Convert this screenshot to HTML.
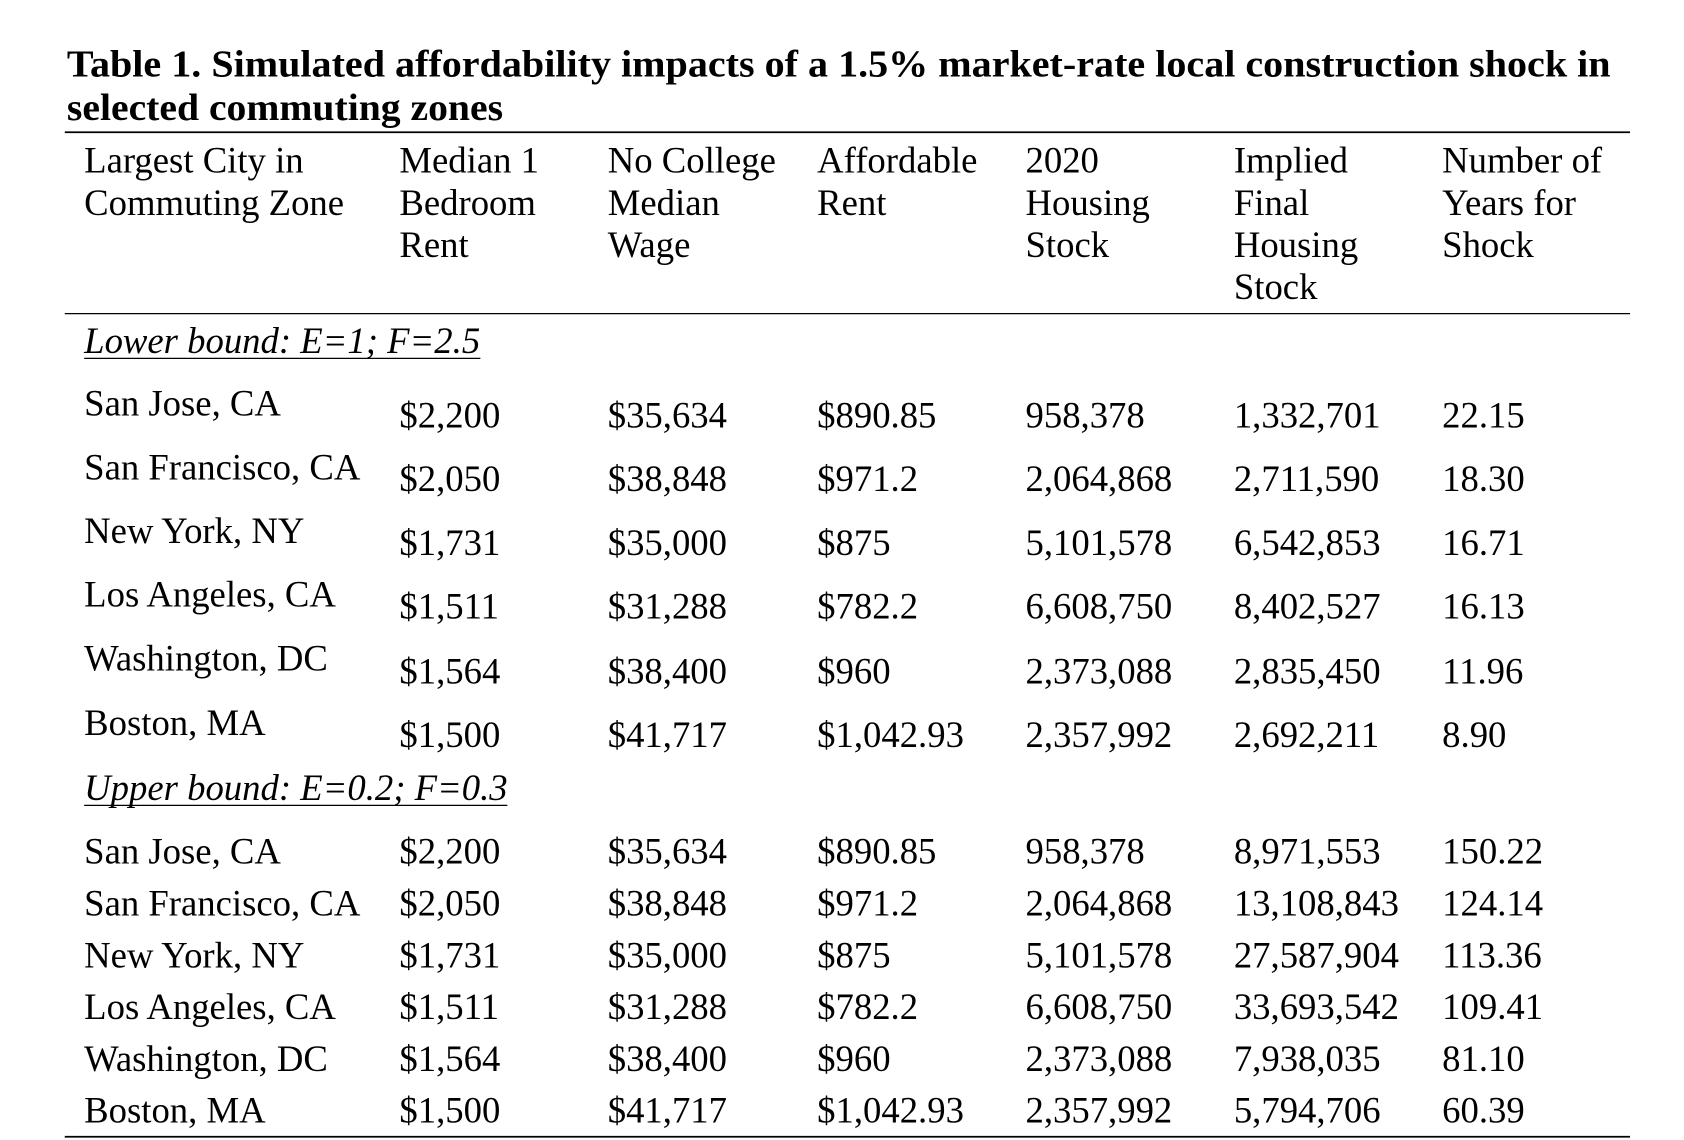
<!DOCTYPE html>
<html><head><meta charset="utf-8"><style>
html,body{margin:0;padding:0;background:#fff;}
svg{display:block;}
text{font-family:"Liberation Serif",serif;fill:#000;}
.t{font-weight:bold;font-size:35px;}
.h{font-size:34px;}
.v{font-size:34px;}
.i{font-size:34px;font-style:italic;}
</style></head><body>
<svg width="1684" height="1140" viewBox="0 0 1560 1056" preserveAspectRatio="none" xmlns="http://www.w3.org/2000/svg">
<text class="t" x="62" y="71" textLength="1430" lengthAdjust="spacingAndGlyphs">Table 1. Simulated affordability impacts of a 1.5% market-rate local construction shock in</text>
<text class="t" x="62" y="111" textLength="404" lengthAdjust="spacingAndGlyphs">selected commuting zones</text>
<line x1="60" y1="122.5" x2="1510" y2="122.5" stroke="#000" stroke-width="1.6"/>
<g class="h">
<text x="78" y="160">Largest City in</text><text x="78" y="199">Commuting Zone</text>
<text x="370" y="160">Median 1</text><text x="370" y="199">Bedroom</text><text x="370" y="238">Rent</text>
<text x="563" y="160">No College</text><text x="563" y="199">Median</text><text x="563" y="238">Wage</text>
<text x="757" y="160">Affordable</text><text x="757" y="199">Rent</text>
<text x="950" y="160">2020</text><text x="950" y="199">Housing</text><text x="950" y="238">Stock</text>
<text x="1143" y="160">Implied</text><text x="1143" y="199">Final</text><text x="1143" y="238">Housing</text><text x="1143" y="277">Stock</text>
<text x="1336" y="160">Number of</text><text x="1336" y="199">Years for</text><text x="1336" y="238">Shock</text>
</g>
<line x1="60" y1="290.5" x2="1510" y2="290.5" stroke="#000" stroke-width="1.2"/>
<text class="i" x="78" y="327">Lower bound: E=1; F=2.5</text>
<line x1="78" y1="332" x2="445" y2="332" stroke="#000" stroke-width="1.2"/>
<g class="v">
<text x="78" y="385">San Jose, CA</text><text x="370" y="396">$2,200</text><text x="563" y="396">$35,634</text><text x="757" y="396">$890.85</text><text x="950" y="396">958,378</text><text x="1143" y="396">1,332,701</text><text x="1336" y="396">22.15</text>
<text x="78" y="444">San Francisco, CA</text><text x="370" y="455">$2,050</text><text x="563" y="455">$38,848</text><text x="757" y="455">$971.2</text><text x="950" y="455">2,064,868</text><text x="1143" y="455">2,711,590</text><text x="1336" y="455">18.30</text>
<text x="78" y="503">New York, NY</text><text x="370" y="514">$1,731</text><text x="563" y="514">$35,000</text><text x="757" y="514">$875</text><text x="950" y="514">5,101,578</text><text x="1143" y="514">6,542,853</text><text x="1336" y="514">16.71</text>
<text x="78" y="562">Los Angeles, CA</text><text x="370" y="573">$1,511</text><text x="563" y="573">$31,288</text><text x="757" y="573">$782.2</text><text x="950" y="573">6,608,750</text><text x="1143" y="573">8,402,527</text><text x="1336" y="573">16.13</text>
<text x="78" y="621">Washington, DC</text><text x="370" y="633">$1,564</text><text x="563" y="633">$38,400</text><text x="757" y="633">$960</text><text x="950" y="633">2,373,088</text><text x="1143" y="633">2,835,450</text><text x="1336" y="633">11.96</text>
<text x="78" y="681">Boston, MA</text><text x="370" y="692">$1,500</text><text x="563" y="692">$41,717</text><text x="757" y="692">$1,042.93</text><text x="950" y="692">2,357,992</text><text x="1143" y="692">2,692,211</text><text x="1336" y="692">8.90</text>
</g>
<text class="i" x="78" y="741">Upper bound: E=0.2; F=0.3</text>
<line x1="78" y1="746" x2="470" y2="746" stroke="#000" stroke-width="1.2"/>
<g class="v">
<text x="78" y="800">San Jose, CA</text><text x="370" y="800">$2,200</text><text x="563" y="800">$35,634</text><text x="757" y="800">$890.85</text><text x="950" y="800">958,378</text><text x="1143" y="800">8,971,553</text><text x="1336" y="800">150.22</text>
<text x="78" y="848">San Francisco, CA</text><text x="370" y="848">$2,050</text><text x="563" y="848">$38,848</text><text x="757" y="848">$971.2</text><text x="950" y="848">2,064,868</text><text x="1143" y="848">13,108,843</text><text x="1336" y="848">124.14</text>
<text x="78" y="896">New York, NY</text><text x="370" y="896">$1,731</text><text x="563" y="896">$35,000</text><text x="757" y="896">$875</text><text x="950" y="896">5,101,578</text><text x="1143" y="896">27,587,904</text><text x="1336" y="896">113.36</text>
<text x="78" y="944">Los Angeles, CA</text><text x="370" y="944">$1,511</text><text x="563" y="944">$31,288</text><text x="757" y="944">$782.2</text><text x="950" y="944">6,608,750</text><text x="1143" y="944">33,693,542</text><text x="1336" y="944">109.41</text>
<text x="78" y="992">Washington, DC</text><text x="370" y="992">$1,564</text><text x="563" y="992">$38,400</text><text x="757" y="992">$960</text><text x="950" y="992">2,373,088</text><text x="1143" y="992">7,938,035</text><text x="1336" y="992">81.10</text>
<text x="78" y="1040">Boston, MA</text><text x="370" y="1040">$1,500</text><text x="563" y="1040">$41,717</text><text x="757" y="1040">$1,042.93</text><text x="950" y="1040">2,357,992</text><text x="1143" y="1040">5,794,706</text><text x="1336" y="1040">60.39</text>
</g>
<line x1="60" y1="1053" x2="1510" y2="1053" stroke="#000" stroke-width="1.6"/>
</svg>
</body></html>
